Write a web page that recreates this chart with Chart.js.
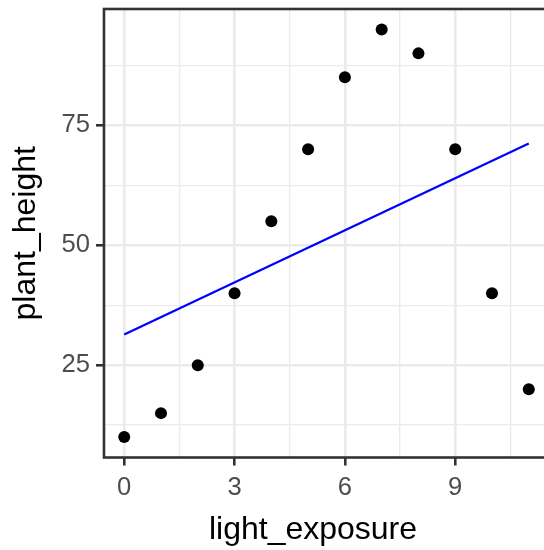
<!DOCTYPE html>
<html>
<head>
<meta charset="utf-8">
<script src="https://cdn.jsdelivr.net/npm/chart.js@4/dist/chart.umd.min.js"></script>
<style>
  html, body { margin: 0; padding: 0; background: #fff; overflow: hidden; }
  #wrap { width: 555px; height: 550px; }
</style>
</head>
<body>
<div id="wrap"><canvas id="plot" width="555" height="550"></canvas></div>
<script>
// donnees
const lightExposure = [0, 1, 2, 3, 4, 5, 6, 7, 8, 9, 10, 11];
const plantHeight = [10, 15, 25, 40, 55, 70, 85, 95, 90, 70, 40, 20];

// droite de regression (extremites lues)
const fitX = [0, 11];
const fitY = [31.4, 71.2];

const xMajor = [0, 3, 6, 9];
const xMinor = [1.5, 4.5, 7.5, 10.5];
const yMajor = [25, 50, 75];
const yMinor = [12.5, 37.5, 62.5, 87.5];

const xTitle = 'light_exposure';
const yTitle = 'plant_height';

const FONT = '"Liberation Sans", Arial, sans-serif';

function gridOpts(major) {
    return {
        color: '#EBEBEB',
        lineWidth: c => major.includes(c.tick.value) ? 2.6 : 1.3,
        tickColor: c => major.includes(c.tick.value) ? '#333333' : 'rgba(0,0,0,0)',
        tickWidth: 2.6,
        tickLength: 8,
        drawTicks: true
    };
}

// cadre du panneau (theme_bw) + titre de l'axe x
const panelBorder = {
    id: 'panelBorder',
    afterDatasetsDraw(chart) {
        const a = chart.chartArea;
        const ctx = chart.ctx;
        ctx.save();
        ctx.strokeStyle = '#333333';
        ctx.lineWidth = 2.6;
        ctx.strokeRect(a.left, a.top, a.right - a.left, a.bottom - a.top);
        ctx.restore();
    },
    afterDraw(chart) {
        const ctx = chart.ctx;
        ctx.save();
        ctx.fillStyle = '#000000';
        ctx.font = '32px ' + FONT;
        ctx.textAlign = 'center';
        ctx.textBaseline = 'alphabetic';
        ctx.fillText(xTitle, 313, 539);
        ctx.restore();
    }
};

new Chart(document.getElementById('plot'), {
    type: 'scatter',
    data: {
        datasets: [
            {
                type: 'line',
                data: fitX.map((x, i) => ({ x: x, y: fitY[i] })),
                borderColor: '#0000FF',
                borderWidth: 2.2,
                pointRadius: 0,
                fill: false
            },
            {
                data: lightExposure.map((x, i) => ({ x: x, y: plantHeight[i] })),
                backgroundColor: '#000000',
                borderWidth: 0,
                pointRadius: 6
            }
        ]
    },
    plugins: [panelBorder],
    options: {
        responsive: false,
        animation: false,
        layout: { padding: { left: 0, right: 3, top: 9, bottom: 0 } },
        plugins: {
            legend: { display: false },
            tooltip: { enabled: false }
        },
        scales: {
            x: {
                type: 'linear',
                min: -0.55,
                max: 11.55,
                afterBuildTicks: s => { s.ticks = xMajor.concat(xMinor).sort((a, b) => a - b).map(v => ({ value: v })); },
                afterFit: s => { s.height = 92.5; s.paddingLeft = 0; s.paddingRight = 0; },
                border: { display: false },
                grid: gridOpts(xMajor),
                ticks: {
                    autoSkip: false,
                    maxRotation: 0,
                    padding: 7,
                    color: '#4D4D4D',
                    font: { family: FONT, size: 25.6 },
                    callback: v => xMajor.includes(v) ? String(v) : ''
                },
                title: { display: false }
            },
            y: {
                type: 'linear',
                min: 5.75,
                max: 99.25,
                afterBuildTicks: s => { s.ticks = yMajor.concat(yMinor).sort((a, b) => a - b).map(v => ({ value: v })); },
                afterFit: s => { s.width = 104; s.paddingTop = 0; s.paddingBottom = 0; },
                border: { display: false },
                grid: gridOpts(yMajor),
                ticks: {
                    autoSkip: false,
                    padding: 6,
                    color: '#4D4D4D',
                    font: { family: FONT, size: 25.6 },
                    callback: v => yMajor.includes(v) ? String(v) : ''
                },
                title: {
                    display: true,
                    text: yTitle,
                    color: '#000000',
                    font: { family: FONT, size: 32 },
                    padding: { top: 7, bottom: 0 }
                }
            }
        }
    }
});
</script>
</body>
</html>
